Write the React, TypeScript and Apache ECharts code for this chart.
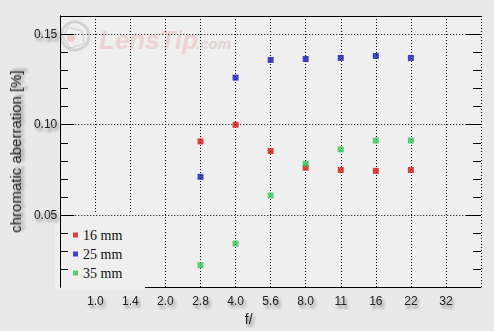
import React, { useEffect, useRef } from "react";
import * as echarts from "echarts";

const fLabels = ["1.0", "1.4", "2.0", "2.8", "4.0", "5.6", "8.0", "11", "16", "22", "32"];
const apertures = ["2.8", "4.0", "5.6", "8.0", "11", "16", "22"];
const mm16 = [0.0906, 0.0998, 0.0853, 0.0761, 0.0748, 0.0743, 0.0748];
const mm25 = [0.071, 0.1259, 0.1357, 0.1362, 0.1368, 0.1379, 0.1368];
const mm35 = [0.0221, 0.0341, 0.0607, 0.0783, 0.0862, 0.0911, 0.0911];
const majorTicks = [0.05, 0.1, 0.15];
const minorTicks = [0.02, 0.03, 0.04, 0.06, 0.07, 0.08, 0.09, 0.11, 0.12, 0.13, 0.14];
const seriesNames = ["16 mm", "25 mm", "35 mm"];
const seriesColors = ["#d81414", "#1717b4", "#33c65a"];
const xMin = 0;
const xMax = fLabels.length + 1;

const toPoints = (vals: number[]) =>
  apertures.map((a, i) => [fLabels.indexOf(a) + 1, vals[i]]);

const shadow = {
  textShadowColor: "rgba(0,0,0,0.45)",
  textShadowBlur: 3,
  textShadowOffsetX: 2,
  textShadowOffsetY: 3,
};

export default function App() {
  const ref = useRef<HTMLDivElement>(null);
  useEffect(() => {
    const chart = echarts.init(ref.current!, null, { renderer: "svg" });
    const dotted = { color: "#000", width: 1, type: [1, 2] as any };
    const yBase = { type: "value", min: 0.01, max: 0.16 };

    const baseGraphic: any[] = [
      {
        type: "rect",
        z: 1,
        silent: true,
        shape: { x: 55, y: 214, width: 90, height: 77 },
        style: { fill: "#efefef" },
      },
      {
        type: "group",
        z: 1,
        silent: true,
        children: [
          {
            type: "circle",
            shape: { cx: 75, cy: 36, r: 14 },
            style: { fill: "none", stroke: "rgba(185,185,185,0.5)", lineWidth: 3 },
          },
          {
            type: "circle",
            shape: { cx: 71, cy: 38, r: 4 },
            style: { fill: "rgba(225,140,140,0.35)" },
          },
          {
            type: "polyline",
            shape: { points: [[68, 27], [82, 31], [84, 44], [70, 48], [63, 37], [68, 27]] },
            style: { fill: "none", stroke: "rgba(185,185,185,0.4)", lineWidth: 1.5 },
          },
          {
            type: "text",
            style: {
              x: 99,
              y: 53,
              text: "LensTip",
              verticalAlign: "bottom",
              fontStyle: "italic",
              fontWeight: "bold",
              fontSize: 26,
              fontFamily: "Liberation Sans",
              fill: "rgba(226,140,140,0.3)",
            },
          },
          {
            type: "text",
            style: {
              x: 196,
              y: 51,
              text: ".com",
              verticalAlign: "bottom",
              fontStyle: "italic",
              fontWeight: "bold",
              fontSize: 15,
              fontFamily: "Liberation Sans",
              fill: "rgba(200,160,160,0.35)",
            },
          },
        ],
      },
    ];

    chart.setOption({
      animation: false,
      backgroundColor: "#e9e9e9",
      grid: {
        left: 54,
        right: 13,
        top: 16,
        bottom: 39,
        show: true,
        backgroundColor: "#efefef",
        borderWidth: 0,
      },
      xAxis: [
        {
          type: "value",
          min: xMin,
          max: xMax,
          interval: 1,
          z: 0,
          name: "f/",
          nameLocation: "middle",
          nameGap: 19,
          nameTextStyle: {
            fontFamily: "Liberation Sans",
            fontSize: 14,
            color: "#222",
            padding: [0, 44, 0, 0],
            ...shadow,
          },
          axisLine: { show: true, lineStyle: { color: "#000", width: 1 } },
          axisTick: { show: false },
          splitLine: { show: true, lineStyle: dotted },
          axisLabel: {
            margin: 8,
            fontFamily: "Liberation Sans",
            fontSize: 12,
            color: "#222",
            ...shadow,
            formatter: (v: number) => fLabels[v - 1] ?? "",
          },
        },
        {
          type: "value",
          position: "top",
          min: xMin,
          max: xMax,
          axisLine: { show: true, lineStyle: { color: "#000", width: 1 } },
          axisTick: { show: false },
          axisLabel: { show: false },
          splitLine: { show: false },
        },
      ],
      yAxis: [
        {
          ...yBase,
          position: "left",
          z: 2,
          name: "chromatic aberration [%]",
          nameLocation: "middle",
          nameGap: 35,
          nameTextStyle: {
            fontFamily: "Liberation Sans",
            fontSize: 15,
            color: "#222",
            ...shadow,
          },
          axisLine: { show: true, lineStyle: { color: "#000", width: 1 } },
          axisTick: {
            show: true,
            inside: true,
            length: 14,
            customValues: majorTicks,
            lineStyle: { color: "#000" },
          },
          axisLabel: {
            customValues: majorTicks,
            margin: 3,
            fontFamily: "Liberation Sans",
            fontSize: 12,
            color: "#222",
            ...shadow,
            formatter: (v: number) => v.toFixed(2),
          },
          splitLine: { show: true, lineStyle: dotted },
        },
        {
          ...yBase,
          position: "right",
          z: 2,
          axisLine: { show: true, lineStyle: { color: "#000", width: 1 } },
          axisTick: { show: false },
          axisLabel: { show: false },
          splitLine: { show: false },
        },
      ],
      legend: {
        orient: "vertical",
        left: 73,
        top: 228,
        padding: 0,
        itemGap: 5,
        itemWidth: 5,
        itemHeight: 5,
        icon: "rect",
        textStyle: { fontFamily: "Liberation Serif", fontSize: 14, color: "#111" },
        data: seriesNames,
      },
      graphic: baseGraphic,
      series: [mm16, mm25, mm35].map((vals, i) => ({
        type: "scatter",
        name: seriesNames[i],
        xAxisIndex: 0,
        yAxisIndex: 0,
        symbol: "rect",
        symbolSize: 6,
        z: 3,
        itemStyle: { color: seriesColors[i] },
        data: toPoints(vals),
      })),
    });

    // frame tick marks, positioned through the chart's own scales
    const finder = { xAxisIndex: 0, yAxisIndex: 0 };
    const tickLines: any[] = [];
    const addTicks = (values: number[], leftLen: number, rightLen: number) => {
      values.forEach((v) => {
        const l = chart.convertToPixel(finder, [xMin, v]) as number[];
        const r = chart.convertToPixel(finder, [xMax, v]) as number[];
        const y = Math.round(l[1]) + 0.5;
        const xl = Math.round(l[0]);
        const xr = Math.round(r[0]);
        tickLines.push({
          type: "line",
          z: 6,
          silent: true,
          shape: { x1: xl, y1: y, x2: xl + leftLen, y2: y },
          style: { stroke: "#000", lineWidth: 1 },
        });
        tickLines.push({
          type: "line",
          z: 6,
          silent: true,
          shape: { x1: xr - rightLen, y1: y, x2: xr, y2: y },
          style: { stroke: "#000", lineWidth: 1 },
        });
      });
    };
    addTicks(majorTicks, 14, 15);
    addTicks(minorTicks, 8, 8);
    chart.setOption({ graphic: [...baseGraphic, ...tickLines] });

    return () => chart.dispose();
  }, []);
  return (
    <div
      ref={ref}
      style={{ position: "fixed", left: 0, top: 0, width: 494, height: 331 }}
    />
  );
}
